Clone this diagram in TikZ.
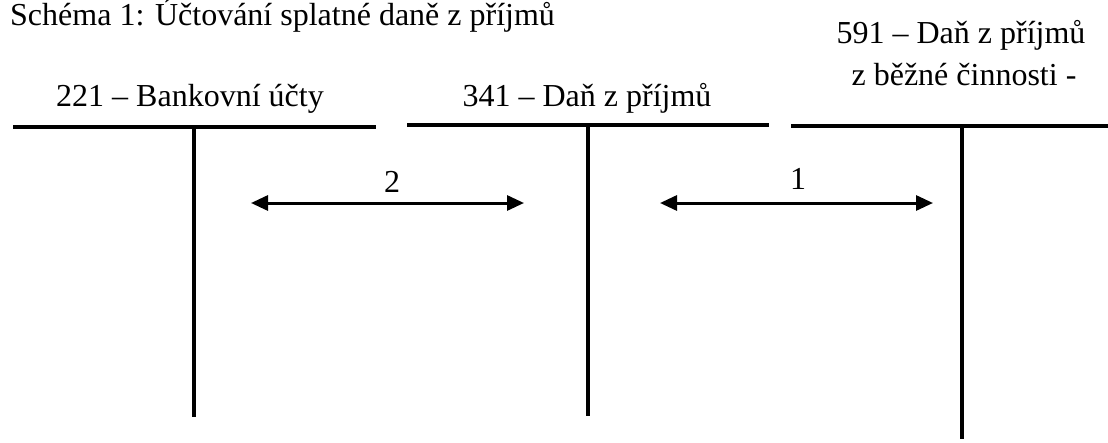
\documentclass[tikz,border=0pt]{standalone}
\usepackage{fontspec}
\setmainfont{Liberation Serif}
\usetikzlibrary{arrows.meta}
\begin{document}
\begin{tikzpicture}[x=1pt,y=-1pt,
  lbl/.style={font=\fontsize{32}{38}\selectfont, inner sep=0pt, anchor=base},
  tbar/.style={line width=4pt},
  flow/.style={line width=3pt, {Triangle[length=17pt,width=15pt]}-{Triangle[length=17pt,width=15pt]}}]
  \useasboundingbox (0,0) rectangle (1108,442);

  % heading
  \node[lbl, anchor=base west] (title) at (10,25) {Schéma 1: Účtování splatné daně z příjmů};

  % account headings
  \node[lbl] (acc221) at (190,106) {221 – Bankovní účty};
  \node[lbl] (acc341) at (587,106) {341 – Daň z příjmů};
  \node[lbl] (acc591a) at (961,43) {591 – Daň z příjmů};
  \node[lbl] (acc591b) at (964,85) {z běžné činnosti -};

  % T-account frames
  \coordinate (a1) at (13,127);  \coordinate (a2) at (376,127);
  \coordinate (at) at (194,127); \coordinate (ab) at (194,417);
  \coordinate (b1) at (407,125); \coordinate (b2) at (769,125);
  \coordinate (bt) at (588,125); \coordinate (bb) at (588,416);
  \coordinate (c1) at (791,126); \coordinate (c2) at (1108,126);
  \coordinate (ct) at (962,126); \coordinate (cb) at (962,439);
  \draw[tbar] (a1) -- (a2);
  \draw[tbar] (at) -- (ab);
  \draw[tbar] (b1) -- (b2);
  \draw[tbar] (bt) -- (bb);
  \draw[tbar] (c1) -- (c2);
  \draw[tbar] (ct) -- (cb);

  % postings
  \coordinate (p2l) at (251,203); \coordinate (p2r) at (524,203);
  \coordinate (p1l) at (660,203); \coordinate (p1r) at (933,203);
  \draw[flow] (p2l) -- (p2r);
  \draw[flow] (p1l) -- (p1r);
  \node[lbl] (n2) at (392,192) {2};
  \node[lbl] (n1) at (798,189) {1};
\end{tikzpicture}
\end{document}
